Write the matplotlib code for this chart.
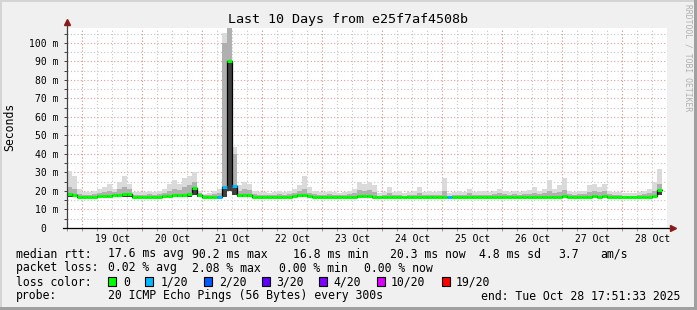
import numpy as np
import pandas as pd
import matplotlib
matplotlib.use('Agg')
import matplotlib.pyplot as plt
import matplotlib.dates as mdates
from matplotlib.patches import Rectangle

nan = np.nan

# one value every 2 hours, 12 per row = one day per row
median_ms = [18.5, 18, 17, 17, 17, 17, 17.5, 17.5, 17.5, 18, 18, 18.5,
             18.5, 17, 17, 17, 17, 17, 17, 17.5, 17.5, 18, 18, 18,
             18.5, 21.5, 18, 17, 17, 17, 17, 22, 90, 22.5, 18, 18,
             18, 17, 17, 17, 17, 17, 17, 17, 17, 17.5, 18, 18,
             17.5, 17, 17, 17, 17, 17, 17, 17, 17, 17, 17.5, 17.5,
             17.5, 17, 16.5, 16.5, 16.5, 16.5, 16.5, 16.5, 16.5, 16.5, 16.5, 16.5,
             16.5, 16.5, 16.5, 17, 16.5, 17, 17, 17, 17, 17, 17, 17,
             17, 17, 17, 17, 17, 17, 17, 17, 17, 17, 17, 17,
             17, 17, 17, 17.5, 17, 17, 17, 17, 17, 17.5, 17, 17.5,
             17, 17, 17, 17, 16.5, 16.5, 16.5, 17, 17, 17.5, 20.3, nan]
smoke_top = [31, 28, 21, 19.5, 19.5, 20, 21, 22, 24, 21, 25, 28,
             24, 19.5, 19.5, 19.5, 20, 19.5, 20, 21, 24, 26, 24, 27,
             28, 30, 20, 18.5, 19, 20, 21, 105.5, 108, 44, 23, 25,
             24, 20, 19.5, 19.5, 19, 19.5, 20, 19.5, 20, 21, 23, 28,
             22, 20, 19.5, 19.5, 20, 19.5, 19, 19.5, 20, 21, 25, 24,
             25, 23, 19, 19.5, 22, 19.5, 20, 19, 19.5, 20, 22, 19.5,
             20, 19.5, 20, 27, 19, 19.5, 20, 19.5, 21, 19.5, 20, 20,
             19.5, 20, 21, 20, 19.5, 20, 19.5, 20, 20.5, 22, 20, 21,
             26, 21, 23, 27, 20, 19.5, 20, 20, 23, 24, 22, 24,
             20, 19.5, 19.5, 19, 19, 19, 19.5, 20, 21, 25, 32, nan]
smoke_mid = [22, 21, 18.5, 18, 18, 18.5, 19, 19.5, 20, 19.5, 21, 22,
             21, 18, 18, 18, 18.5, 18, 18.5, 19, 20, 21, 20.5, 22,
             23, 25, 19, 18, 18, 18.5, 19, 100, 108, 40, 20, 21,
             20.5, 18.5, 18, 18, 18, 18, 18.5, 18, 18.5, 19, 20, 21,
             19, 18.5, 18, 18, 18.5, 18, 18, 18, 18.5, 19, 20.5, 20,
             20.5, 19.5, 17.5, 18, 19, 18, 18, 17.5, 18, 18, 19, 18,
             18, 18, 18, 20, 17.5, 18, 18, 18, 19, 18, 18, 18,
             18, 18.5, 19, 18.5, 18, 18.5, 18, 18.5, 18.5, 19, 18.5, 19,
             20, 19, 19.5, 20.5, 18.5, 18, 18.5, 18.5, 19.5, 20, 19.5, 20,
             18.5, 18, 18, 17.5, 17.5, 17.5, 18, 18.5, 19, 20, 24, nan]
smoke_low = [17, 16.5, 16.5, 16.5, 16.5, 16.5, 16.5, 16.5, 16.5, 17, 17, 17,
             17, 16.5, 16.5, 16.5, 16.5, 16.5, 16.5, 16.5, 17, 17, 17, 17,
             17, 18, 16.5, 16.5, 16.5, 16.5, 16.5, 17, 20, 18, 17, 17,
             17, 16.5, 16.5, 16.5, 16.5, 16.5, 16.5, 16.5, 16.5, 16.5, 17, 17,
             16.5, 16.5, 16.5, 16.5, 16.5, 16.5, 16.5, 16.5, 16.5, 16.5, 16.5, 16.5,
             16.5, 16.5, 16, 16, 16, 16, 16, 16, 16, 16, 16, 16,
             16, 16, 16, 16.5, 16, 16.5, 16.5, 16.5, 16.5, 16.5, 16.5, 16.5,
             16.5, 16.5, 16.5, 16.5, 16.5, 16.5, 16.5, 16.5, 16.5, 16.5, 16.5, 16.5,
             16.5, 16.5, 16.5, 16.5, 16.5, 16.5, 16.5, 16.5, 16.5, 16.5, 16.5, 16.5,
             16.5, 16.5, 16.5, 16.5, 16, 16, 16, 16.5, 16.5, 16.5, 18, nan]
# lost pings (out of 20) per bin
loss_count = [0] * 120
for b in [30, 31, 33, 76]:
    loss_count[b] = 1

loss_labels = ['0', '1/20', '2/20', '3/20', '4/20', '10/20', '19/20']
loss_levels = [0, 1, 2, 3, 4, 10, 19]
loss_colors = ['#00ff00', '#00b8ff', '#0059ff', '#5e00ff', '#7e00ff', '#dd00ff', '#ff0000']

ytick_vals = [0, 10, 20, 30, 40, 50, 60, 70, 80, 90, 100]
ytick_labels = ['0  ', '10 m', '20 m', '30 m', '40 m', '50 m', '60 m', '70 m', '80 m', '90 m', '100 m']

title = 'Last 10 Days from e25f7af4508b'
start = pd.Timestamp('2025-10-18 17:51:33')
end = pd.Timestamp('2025-10-28 17:51:33')

plt.rcParams['font.family'] = ['DejaVu Sans Mono']

W, H = 697, 310
fig = plt.figure(figsize=(W / 100, H / 100), dpi=100, facecolor='#f0f0f0')


def fx(x):
    return x / W


def fy(y):
    return 1 - y / H


ax = fig.add_axes([fx(67), 82 / H, 600 / W, 200 / H])
ax.set_facecolor('white')

times = pd.date_range(start, periods=len(median_ms), freq='2h')
x = mdates.date2num(times.to_pydatetime())
bw = 2 / 24
med = np.array(median_ms, dtype=float)
top = np.array(smoke_top, dtype=float)
mid = np.array(smoke_mid, dtype=float)
low = np.array(smoke_low, dtype=float)

ok = ~np.isnan(med)
# smoke
ax.bar(x[ok], top[ok] - low[ok], bottom=low[ok], width=bw, align='edge', color='#dadada', lw=0, zorder=1)
ax.bar(x[ok], mid[ok] - low[ok], bottom=low[ok], width=bw, align='edge', color='#b0b0b0', lw=0, zorder=1)
ax.bar(x[ok], med[ok] - low[ok], bottom=low[ok], width=bw, align='edge', color='#404040', lw=0, zorder=1)

# median line, coloured by loss
ax.step(np.append(x, x[-1] + bw), np.append(med, med[-1]), where='post', color='black', lw=0.9, zorder=3)
seg_colors = []
for c in loss_count:
    idx = max(i for i, lv in enumerate(loss_levels) if lv <= c)
    seg_colors.append(loss_colors[idx])
ax.hlines(med, x, x + bw, colors=seg_colors, lw=2.2, zorder=4)

ax.set_xlim(mdates.date2num(start), mdates.date2num(end))
ax.set_ylim(0, 108)

# grid
ax.set_axisbelow(True)
ax.set_yticks(ytick_vals)
ax.set_yticklabels(ytick_labels)
ax.yaxis.set_minor_locator(matplotlib.ticker.MultipleLocator(5))
ax.yaxis.grid(which='major', color='#e89a9a', ls=(0, (1, 2)), lw=0.8)
ax.yaxis.grid(which='minor', color='#c4c4c4', ls=(0, (1, 2)), lw=0.8)
ax.xaxis.set_major_locator(mdates.HourLocator(byhour=[12]))
ax.xaxis.set_major_formatter(mdates.DateFormatter('%d %b'))
ax.xaxis.set_minor_locator(mdates.HourLocator(byhour=[0, 6, 18]))
ax.xaxis.grid(which='both', color='#c4c4c4', ls=(0, (1, 2)), lw=0.8)
for d in pd.date_range('2025-10-19', '2025-10-28', freq='D'):
    ax.axvline(mdates.date2num(d), color='#e89a9a', ls=(0, (1, 2)), lw=0.8, zorder=0.6)

ax.tick_params(axis='y', which='both', length=2, width=0.7, color='#404040', labelsize=7, pad=4)
ax.tick_params(axis='x', which='major', length=0, labelsize=7, pad=4)
ax.tick_params(axis='x', which='minor', length=2, width=0.7, color='#999999')

for s in ['top', 'right', 'left', 'bottom']:
    ax.spines[s].set_visible(False)
# axes with arrows
ax.plot([0, 0], [0, 1.025], transform=ax.transAxes, color='#404040', lw=0.9, clip_on=False, zorder=5)
ax.plot([-0.007, 1.008], [0, 0], transform=ax.transAxes, color='black', lw=0.9, clip_on=False, zorder=5)
ax.plot([0], [1.03], transform=ax.transAxes, marker='^', ms=4, color='#8b1a1a', clip_on=False, zorder=6)
ax.plot([1.01], [0], transform=ax.transAxes, marker='>', ms=4, color='#8b1a1a', clip_on=False, zorder=6)

# titles
fig.text(0.5, fy(19), title, ha='center', va='center', fontsize=9.6)
fig.text(fx(10), fy(127), 'Seconds', rotation=90, ha='center', va='center', fontsize=8.3)
fig.text(fx(688), fy(4), 'RRDTOOL / TOBI OETIKER', rotation=270, ha='center', va='top',
         fontsize=5.8, color='#b0b0b0')

# legend block
fs = 8.3
rows = [
    (254, [(16, 'median rtt:'), (107.6, '17.6 ms avg'), (192.4, '90.2 ms max'), (293, '16.8 ms min'),
           (390, '20.3 ms now'), (479, '4.8 ms sd'), (558, '3.7'), (600, 'am/s')]),
    (268, [(16, 'packet loss:'), (107.6, '0.02 % avg'), (192, '2.08 % max'), (279, '0.00 % min'),
           (364, '0.00 % now')]),
    (282, [(16, 'loss color:')]),
    (296, [(16, 'probe:'), (107.6, '20 ICMP Echo Pings (56 Bytes) every 300s')]),
]
for yy, parts in rows:
    for xx, txt in parts:
        fig.text(fx(xx), fy(yy), txt, ha='left', va='center', fontsize=fs)
fig.text(fx(680), fy(296), 'end: Tue Oct 28 17:51:33 2025', ha='right', va='center', fontsize=fs)

swatch_x = [108, 145, 204.4, 262, 319, 377, 442]
label_x = [123.6, 161, 219, 276, 333, 391, 456]
for sx, lx, col, lab in zip(swatch_x, label_x, loss_colors, loss_labels):
    fig.patches.append(Rectangle((fx(sx), fy(286)), 8 / W, 9 / H, transform=fig.transFigure,
                                 facecolor=col, edgecolor='black', lw=0.8))
    fig.text(fx(lx), fy(282), lab, ha='left', va='center', fontsize=fs)

# 3d frame
fig.patches.append(Rectangle((0, 1 - 2 / H), 1, 2 / H, transform=fig.transFigure, color='#d4d4d4', lw=0))
fig.patches.append(Rectangle((0, 0), 2 / W, 1, transform=fig.transFigure, color='#d4d4d4', lw=0))
fig.patches.append(Rectangle((0, 0), 1, 3 / H, transform=fig.transFigure, color='#a0a0a0', lw=0))
fig.patches.append(Rectangle((1 - 3 / W, 0), 3 / W, 1, transform=fig.transFigure, color='#a0a0a0', lw=0))

fig.savefig('out.png', dpi=100, facecolor=fig.get_facecolor())
